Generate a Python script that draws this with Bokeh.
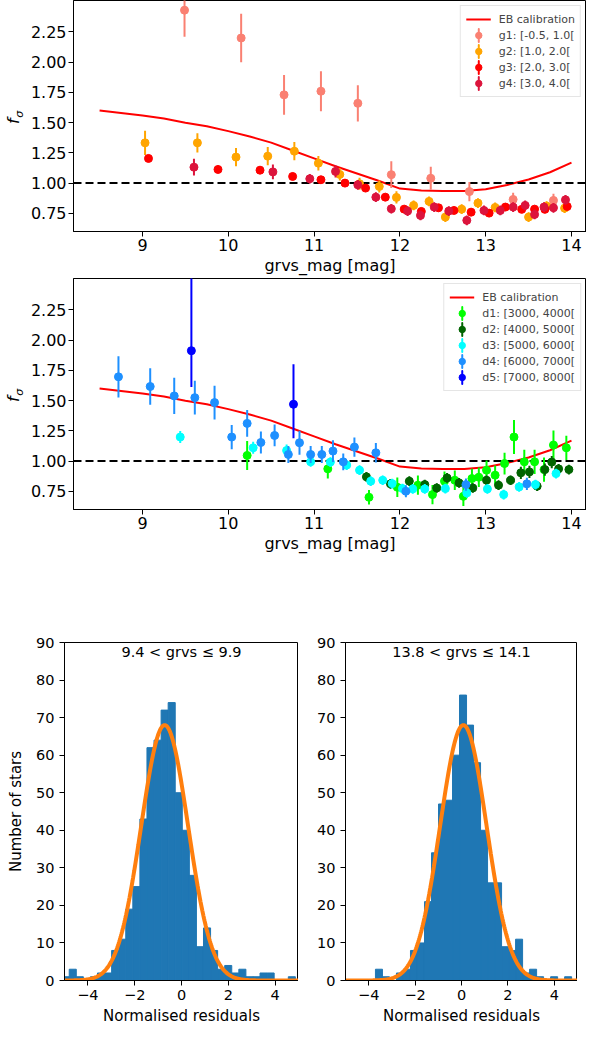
import numpy as np
from bokeh.plotting import figure
from bokeh.layouts import column, row
from bokeh.models import (FixedTicker, PrintfTickFormatter, Legend, LegendItem,
                          Label, Range1d, LinearAxis)
from bokeh.embed import file_html
from bokeh.resources import INLINE

FONT = "DejaVu Sans"

# ---------------- data ----------------
eb_mag = [8.5, 8.75, 9.0, 9.25, 9.5, 9.75, 10.0, 10.25, 10.5, 10.75, 11.0, 11.25,
          11.5, 11.75, 12.0, 12.25, 12.5, 12.75, 13.0, 13.25, 13.5, 13.75, 14.0]
eb_f = [1.60, 1.58, 1.56, 1.535, 1.50, 1.47, 1.43, 1.385, 1.335, 1.27, 1.205, 1.14,
        1.08, 1.02, 0.955, 0.94, 0.935, 0.935, 0.95, 0.985, 1.03, 1.09, 1.17]

# top panel: colour groups
g1_mag = [9.49, 10.15, 10.65, 11.08, 11.51, 11.90, 12.36, 12.81, 13.32, 13.79]
g1_f = [2.43, 2.20, 1.73, 1.76, 1.66, 1.07, 1.04, 0.93, 0.865, 0.857]
g1_err = [0.22, 0.20, 0.165, 0.165, 0.15, 0.11, 0.095, 0.08, 0.055, 0.055]

g2_mag = [9.03, 9.64, 10.09, 10.46, 10.77, 11.05, 11.30, 11.53, 11.76, 11.96, 12.16,
          12.34, 12.53, 12.72, 12.91, 13.11, 13.50, 13.71, 13.92]
g2_f = [1.333, 1.333, 1.215, 1.223, 1.264, 1.165, 1.072, 0.995, 0.972, 0.882, 0.816,
        0.849, 0.719, 0.785, 0.835, 0.799, 0.719, 0.81, 0.793]
g2_err = [0.10, 0.08, 0.075, 0.075, 0.075, 0.06, 0.05, 0.05, 0.05, 0.05, 0.04,
          0.04, 0.04, 0.04, 0.04, 0.04, 0.04, 0.04, 0.04]

g3_mag = [9.07, 9.88, 10.37, 10.75, 11.08, 11.36, 11.60, 11.83, 12.05, 12.25, 12.45,
          12.63, 12.83, 13.04, 13.23, 13.42, 13.57, 13.69, 13.95]
g3_f = [1.204, 1.113, 1.107, 1.055, 1.028, 1.0, 0.959, 0.884, 0.785, 0.766, 0.796,
        0.774, 0.76, 0.752, 0.802, 0.783, 0.785, 0.783, 0.807]
g3_err = [0.03, 0.03, 0.03, 0.03, 0.03, 0.03, 0.03, 0.03, 0.03, 0.03, 0.03,
          0.03, 0.03, 0.03, 0.03, 0.03, 0.03, 0.03, 0.03]

g4_mag = [9.60, 10.52, 10.95, 11.25, 11.51, 11.72, 11.90, 12.09, 12.24, 12.40, 12.57,
          12.78, 12.98, 13.17, 13.32, 13.46, 13.57, 13.68, 13.79, 13.93]
g4_f = [1.132, 1.093, 1.036, 1.097, 0.986, 0.884, 0.788, 0.769, 0.733, 0.802, 0.769,
        0.692, 0.774, 0.774, 0.802, 0.816, 0.741, 0.802, 0.796, 0.862]
g4_err = [0.07, 0.06, 0.04, 0.05, 0.04, 0.04, 0.04, 0.04, 0.04, 0.04, 0.04,
          0.04, 0.04, 0.04, 0.04, 0.04, 0.04, 0.04, 0.04, 0.04]

# middle panel: distance groups
d1_mag = [10.22, 11.16, 11.64, 11.97, 12.21, 12.38, 12.52, 12.64, 12.74, 12.84, 12.92,
          13.01, 13.11, 13.22, 13.33, 13.45, 13.57, 13.68, 13.79, 13.94]
d1_f = [1.047, 0.936, 0.701, 0.784, 0.801, 0.723, 0.834, 0.842, 0.709, 0.856, 0.867,
        0.925, 0.884, 0.98, 1.199, 0.994, 0.994, 0.93, 1.133, 1.11]
d1_err = [0.12, 0.08, 0.06, 0.08, 0.08, 0.08, 0.08, 0.08, 0.08, 0.08, 0.08,
          0.08, 0.08, 0.09, 0.14, 0.10, 0.10, 0.10, 0.12, 0.10]

d2_mag = [11.61, 11.89, 12.11, 12.29, 12.43, 12.55, 12.69, 12.85, 13.01, 13.15, 13.29,
          13.41, 13.51, 13.60, 13.69, 13.77, 13.85, 13.97]
d2_f = [0.87, 0.812, 0.834, 0.806, 0.778, 0.861, 0.82, 0.778, 0.842, 0.801, 0.842,
        0.903, 0.911, 0.793, 0.93, 0.992, 0.936, 0.93]
d2_err = [0.04, 0.04, 0.04, 0.04, 0.04, 0.04, 0.04, 0.04, 0.04, 0.04, 0.04,
          0.05, 0.05, 0.04, 0.05, 0.05, 0.04, 0.04]

d3_mag = [9.44, 10.29, 10.68, 10.96, 11.19, 11.38, 11.53, 11.66, 11.80, 11.91, 12.03,
          12.15, 12.29, 12.53, 12.78, 13.02, 13.21, 13.39, 13.58, 13.82]
d3_f = [1.199, 1.11, 1.088, 0.994, 0.992, 0.967, 0.925, 0.834, 0.842, 0.814, 0.773,
        0.77, 0.77, 0.773, 0.737, 0.77, 0.723, 0.787, 0.806, 0.897]
d3_err = [0.05, 0.05, 0.05, 0.04, 0.04, 0.04, 0.04, 0.04, 0.04, 0.04, 0.04,
          0.04, 0.04, 0.04, 0.04, 0.04, 0.04, 0.04, 0.04, 0.04]

d4_mag = [8.72, 9.09, 9.37, 9.61, 9.84, 10.04, 10.22, 10.38, 10.54, 10.70, 10.83,
          10.96, 11.09, 11.22, 11.34, 11.47, 11.72, 12.07, 12.77, 13.48]
d4_f = [1.697, 1.617, 1.539, 1.525, 1.484, 1.199, 1.312, 1.154, 1.212, 1.055, 1.152,
        1.055, 1.055, 1.083, 0.994, 1.116, 1.069, 0.751, 0.806, 0.812]
d4_err = [0.17, 0.15, 0.15, 0.14, 0.14, 0.10, 0.11, 0.09, 0.09, 0.07, 0.10,
          0.07, 0.07, 0.09, 0.07, 0.08, 0.08, 0.05, 0.05, 0.05]

d5_mag = [9.57, 10.76]
d5_f = [1.913, 1.47]
d5_err_lo = [0.30, 0.28]
d5_err_hi = [0.65, 0.33]

# histograms (normalised residuals)
h1_title = "9.4 < grvs \u2264 9.9"
h1_bin_start, h1_bin_width = -5.10, 0.302
h1_counts = [1, 3, 1, 0, 1, 2, 2, 8, 11, 19, 25, 43, 62, 64, 72, 74, 50, 40, 28, 9,
             14, 8, 3, 4, 2, 3, 1, 1, 2, 2, 0, 0, 1]
h1_fit = dict(amp=68.0, mu=-0.72, sigma=1.0)

h2_title = "13.8 < grvs \u2264 14.1"
h2_bin_start, h2_bin_width = -3.709, 0.302
h2_counts = [3, 1, 0, 2, 3, 8, 10, 21, 34, 47, 48, 60, 76, 68, 58, 40, 26, 26, 9, 8,
             11, 2, 3, 1, 0, 1, 0, 1]
h2_fit = dict(amp=68.0, mu=0.08, sigma=1.0)

mag_ticks = [9, 10, 11, 12, 13, 14]
f_ticks = [0.75, 1.0, 1.25, 1.5, 1.75, 2.0, 2.25]
res_ticks = [-4, -2, 0, 2, 4]
count_ticks = [0, 10, 20, 30, 40, 50, 60, 70, 80, 90]


# ---------------- helpers ----------------
def style(p, tick_size, label_size, tick_standoff, label_standoff):
    for ax in list(p.xaxis) + list(p.yaxis):
        ax.major_label_text_font = FONT
        ax.major_label_text_font_size = tick_size
        ax.major_label_text_color = "black"
        ax.axis_label_text_font = FONT
        ax.axis_label_text_font_size = label_size
        ax.axis_label_text_font_style = "normal"
        ax.axis_label_text_color = "black"
        ax.axis_line_color = "black"
        ax.major_tick_line_color = "black"
        ax.major_tick_in = 0
        ax.major_tick_out = 5
        ax.minor_tick_line_color = None
        ax.major_label_standoff = tick_standoff
        ax.axis_label_standoff = label_standoff
    p.grid.visible = False
    p.outline_line_color = "black"
    p.outline_line_alpha = 1.0
    p.background_fill_color = "white"
    p.border_fill_color = "white"


def f_panel(groups):
    p = figure(frame_width=513, frame_height=231,
               x_range=Range1d(8.196, 14.175), y_range=Range1d(0.6, 2.51),
               min_border_left=64, min_border_right=0, min_border_top=0,
               min_border_bottom=47,
               output_backend="svg", toolbar_location=None)
    p.xaxis.axis_label = "grvs_mag [mag]"
    p.xaxis.ticker = FixedTicker(ticks=mag_ticks)
    p.yaxis.ticker = FixedTicker(ticks=f_ticks)
    p.yaxis.formatter = PrintfTickFormatter(format="%.2f")
    style(p, "16px", "16px", 2, 2)

    # y label f_sigma: subscript on the inner axis, "f" on an outer bare axis
    p.yaxis.axis_label = "\u00a0\u03c3"
    p.yaxis.axis_label_text_font_size = "11px"
    p.yaxis.axis_label_text_font_style = "italic"
    p.yaxis.axis_label_standoff = 2
    outer = LinearAxis(ticker=FixedTicker(ticks=[]), axis_label="f\u00a0\u00a0",
                       axis_label_text_font=FONT, axis_label_text_font_size="16px",
                       axis_label_text_font_style="italic",
                       axis_label_text_color="black", axis_line_color=None,
                       major_tick_in=0, major_tick_out=0, minor_tick_in=0,
                       minor_tick_out=0, major_label_standoff=0,
                       axis_label_standoff=-13)
    p.add_layout(outer, "left")

    eb = p.line(eb_mag, eb_f, line_color="red", line_width=2)
    p.line([8.196, 14.175], [1.0, 1.0], line_color="black", line_width=2,
           line_dash="8 4")
    items = [LegendItem(label="EB calibration", renderers=[eb])]
    for name, mags, fs, errs_lo, errs_hi, color in groups:
        lo = [f - e for f, e in zip(fs, errs_lo)]
        hi = [f + e for f, e in zip(fs, errs_hi)]
        p.segment(x0=mags, y0=lo, x1=mags, y1=hi, line_color=color, line_width=2)
        sc = p.scatter(mags, fs, size=8, marker="circle", fill_color=color,
                       line_color=color)
        # legend proxy: a very thin ellipse (never drawn, NaN position) gives a
        # vertical error-bar stroke in the legend
        bar = p.ellipse(x=[np.nan], y=[np.nan], width=0.01, height=12,
                        width_units="screen", height_units="screen",
                        fill_color=None, line_color=color, line_width=2)
        items.append(LegendItem(label=name, renderers=[bar, sc]))

    leg = Legend(items=items, location="top_right", margin=5, padding=5,
                 spacing=0, glyph_width=25, glyph_height=16, label_height=16,
                 label_standoff=8, label_text_font=FONT,
                 label_text_font_size="11px", border_line_color="#cccccc",
                 border_line_width=1, background_fill_alpha=0.8)
    p.add_layout(leg)
    return p


def hist_panel(title, start, width, counts, fit, frame_w, left_border, ylabel):
    p = figure(frame_width=frame_w, frame_height=338,
               x_range=Range1d(-5, 5), y_range=Range1d(0, 90),
               min_border_left=left_border, min_border_right=0,
               min_border_top=86, min_border_bottom=46,
               output_backend="svg", toolbar_location=None)
    p.xaxis.axis_label = "Normalised residuals"
    if ylabel:
        p.yaxis.axis_label = ylabel
    p.xaxis.ticker = FixedTicker(ticks=res_ticks)
    p.xaxis.major_label_overrides = {-4: "\u22124", -2: "\u22122"}
    p.yaxis.ticker = FixedTicker(ticks=count_ticks)
    style(p, "14.5px", "15px", 4, 4)
    p.yaxis.major_label_standoff = 5
    p.yaxis.axis_label_standoff = 8

    n = len(counts)
    left = [start + width * i for i in range(n)]
    right = [start + width * (i + 1) for i in range(n)]
    p.quad(left=left, right=right, bottom=0, top=counts,
           fill_color="#1f77b4", line_color="#1f77b4", line_width=1)
    xs = np.linspace(-5, 5, 400)
    ys = fit["amp"] * np.exp(-0.5 * ((xs - fit["mu"]) / fit["sigma"]) ** 2)
    p.line(xs, ys, line_color="#ff7f0e", line_width=4)

    p.add_layout(Label(x=frame_w / 2, y=338 - 9, x_units="screen",
                       y_units="screen", text=title, text_align="center",
                       text_baseline="middle", text_font=FONT,
                       text_font_size="14.5px", text_color="black"))
    return p


top = f_panel([
    ("g1: [-0.5, 1.0[", g1_mag, g1_f, g1_err, g1_err, "#FA8072"),
    ("g2: [1.0, 2.0[", g2_mag, g2_f, g2_err, g2_err, "#FFA500"),
    ("g3: [2.0, 3.0[", g3_mag, g3_f, g3_err, g3_err, "#FF0000"),
    ("g4: [3.0, 4.0[", g4_mag, g4_f, g4_err, g4_err, "#DC143C"),
])
mid = f_panel([
    ("d1: [3000, 4000[", d1_mag, d1_f, d1_err, d1_err, "#00FF00"),
    ("d2: [4000, 5000[", d2_mag, d2_f, d2_err, d2_err, "#006400"),
    ("d3: [5000, 6000[", d3_mag, d3_f, d3_err, d3_err, "#00FFFF"),
    ("d4: [6000, 7000[", d4_mag, d4_f, d4_err, d4_err, "#1E90FF"),
    ("d5: [7000, 8000[", d5_mag, d5_f, d5_err_lo, d5_err_hi, "#0000FF"),
])
h1 = hist_panel(h1_title, h1_bin_start, h1_bin_width, h1_counts, h1_fit,
                234, 64, "Number of stars")
h2 = hist_panel(h2_title, h2_bin_start, h2_bin_width, h2_counts, h2_fit,
                232, 47, None)

layout = column(top, mid, row(h1, h2, spacing=0), spacing=0)
open("out.html", "w").write(file_html(layout, INLINE))
